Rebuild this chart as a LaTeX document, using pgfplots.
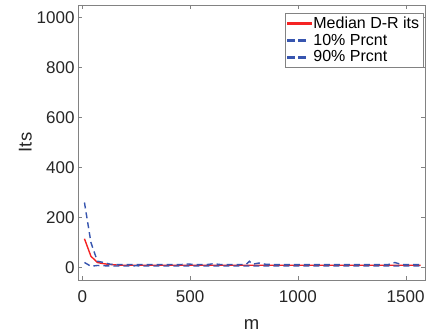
\documentclass[border=0pt]{standalone}
\usepackage{pgfplots}
\pgfplotsset{compat=1.18}
\usepackage{fontspec}
\setmainfont{Liberation Sans}
\definecolor{mred}{RGB}{245,35,35}
\definecolor{mblue}{RGB}{55,85,175}
\definecolor{axgray}{RGB}{130,130,130}
\tikzset{
  medianline/.style={color=mred, solid, line width=1.4pt},
  prcntline/.style={color=mblue, line width=1.4pt, dash pattern=on 6pt off 4pt},
}
\begin{document}
\begin{tikzpicture}
\path[use as bounding box] (0,0) rectangle (430pt,336pt);
\begin{axis}[
  at={(78pt,56pt)}, anchor=south west,
  scale only axis, width=347pt, height=275pt,
  xmin=-20, xmax=1590, ymin=-50, ymax=1050,
  xtick={0,500,1000,1500}, ytick={0,200,400,600,800,1000},
  tick align=inside, major tick length=4pt,
  axis line style={axgray}, tick style={axgray},
  /pgf/number format/assume math mode=true,
  /pgf/number format/1000 sep={},
  ticklabel style={font=\fontsize{17}{19}\selectfont, text=black!85},
  xticklabel style={yshift=-7pt},
  xlabel={m}, ylabel={Its},
  label style={font=\fontsize{18.5}{20}\selectfont, text=black!85},
  xlabel style={yshift=-10pt},
  ylabel style={yshift=-2pt},
  legend style={at={(0.994,0.97)}, anchor=north east, draw=axgray,
    font=\fontsize{16}{18}\selectfont, inner sep=1.5pt, row sep=0pt},
  legend cell align=left,
]
% legend samples: a solid red bar, and blue dashes
\addlegendimage{legend image code/.code={%
  \fill[mred] (0pt,-0.8pt) rectangle (24pt,0.8pt);}}
\addlegendentry{Median D-R its}
\addlegendimage{legend image code/.code={%
  \fill[mblue] (0pt,-0.8pt) rectangle (7pt,0.8pt);
  \fill[mblue] (11pt,-0.8pt) rectangle (18pt,0.8pt);}}
\addlegendentry{10\% Prcnt}
\addlegendimage{legend image code/.code={%
  \fill[mblue] (0pt,-0.8pt) rectangle (7pt,0.8pt);
  \fill[mblue] (11pt,-0.8pt) rectangle (18pt,0.8pt);}}
\addlegendentry{90\% Prcnt}
\addplot[medianline, forget plot] coordinates {
(10,115) (40,45) (70,20) (100,15) (130,12) (160,10) (190,9) (220,9) (250,9)
(280,9) (310,9) (340,9) (370,9) (400,9) (430,9) (460,9) (490,9) (520,9)
(550,9) (580,9) (610,9) (640,9) (670,9) (700,9) (730,9) (760,9) (790,9)
(820,9) (850,9) (880,9) (910,9) (940,9) (970,9) (1000,9) (1030,9) (1060,9)
(1090,9) (1120,9) (1150,9) (1180,9) (1210,9) (1240,9) (1270,9) (1300,9)
(1330,9) (1360,9) (1390,9) (1420,9) (1450,9) (1480,9) (1510,9) (1540,9) (1570,9)
};
\addplot[prcntline, forget plot] coordinates {
(10,20) (40,5) (70,8) (100,7) (130,6) (160,6) (190,6) (220,6) (250,7)
(280,6) (310,6) (340,6) (370,6) (400,6) (430,6) (460,6) (490,6) (520,6)
(550,6) (580,6) (610,6) (640,6) (670,6) (700,6) (730,6) (760,6) (790,6)
(820,6) (850,6) (880,6) (910,6) (940,6) (970,6) (1000,6) (1030,6) (1060,6)
(1090,6) (1120,6) (1150,6) (1180,6) (1210,6) (1240,6) (1270,6) (1300,6)
(1330,6) (1360,6) (1390,6) (1420,6) (1450,6) (1480,6) (1510,6) (1540,6) (1570,6)
};
\addplot[prcntline, forget plot] coordinates {
(10,260) (40,100) (70,25) (100,20) (130,13) (160,12) (190,12) (220,12) (250,12)
(280,12) (310,12) (340,12) (370,12) (400,12) (430,12) (460,12) (490,14) (520,12)
(550,12) (580,12) (610,15) (640,12) (670,12) (700,12) (730,12) (760,12) (775,25) (790,13)
(820,18) (850,13) (880,12) (910,12) (940,12) (970,12) (1000,12) (1030,12) (1060,12)
(1090,12) (1120,12) (1150,12) (1180,12) (1210,12) (1240,12) (1270,12) (1300,12)
(1330,12) (1360,12) (1390,12) (1420,12) (1450,20) (1480,12) (1510,12) (1540,12) (1570,12)
};
\end{axis}
\end{tikzpicture}
\end{document}
